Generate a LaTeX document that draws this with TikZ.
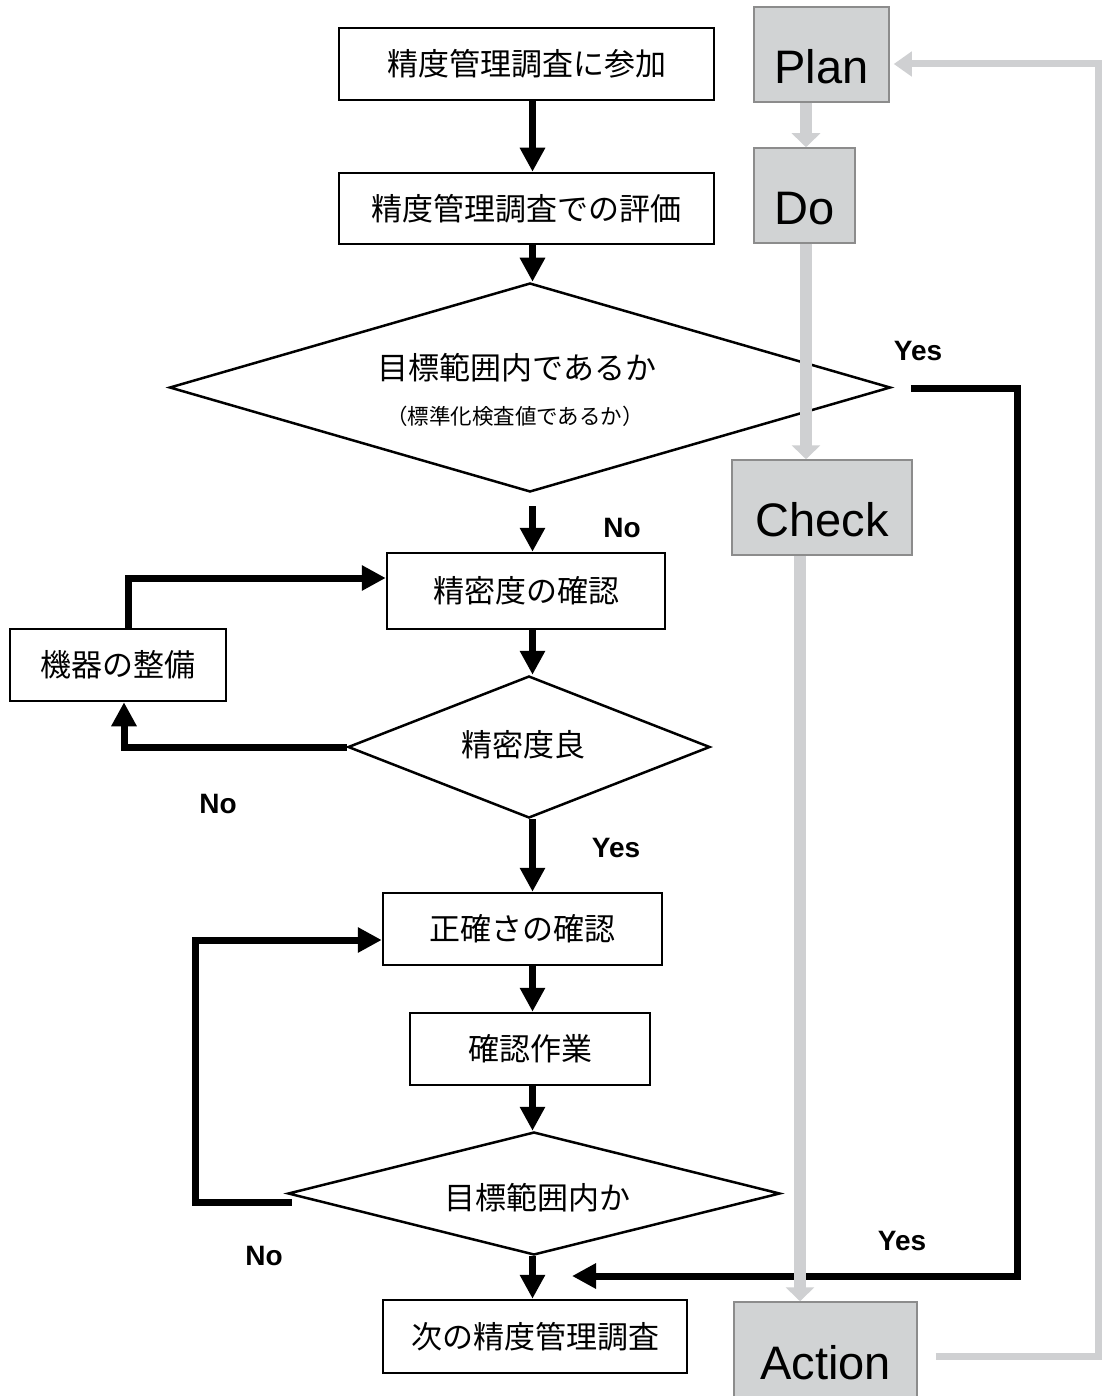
\documentclass[tikz,border=0pt]{standalone}
\usepackage{fontspec}
\setmainfont{Liberation Sans}
\newfontfamily\jp{Noto Sans CJK JP}
\usetikzlibrary{arrows.meta,shapes.geometric,calc}
\definecolor{pdcafill}{HTML}{D1D3D4}
\definecolor{pdcaedge}{HTML}{8C8C8C}
\definecolor{pdcaarrow}{HTML}{CFD0D2}
\begin{document}
\begin{tikzpicture}[x=1pt,y=-1pt,
  jbox/.style={draw=black, line width=2.5pt, fill=white, inner sep=0pt, font=\jp\fontsize{31}{36}\selectfont},
  jtext/.style={inner sep=0pt, font=\jp\fontsize{31}{36}\selectfont},
  jsmall/.style={inner sep=0pt, font=\jp\fontsize{21.5}{24}\selectfont},
  pbox/.style={draw=pdcaedge, line width=1.5pt, fill=pdcafill, inner sep=0pt, text height=58pt, text depth=0pt, font=\fontsize{47}{50}\selectfont},
  dia/.style={diamond, draw=black, line width=2.5pt, inner sep=0pt},
  arr/.style={draw=black, line width=7pt, -{Triangle[width=24pt,length=24pt]}},
  garr/.style={draw=pdcaarrow, line width=12pt, -{Triangle[width=28pt,length=14pt]}},
  garrb/.style={draw=pdcaarrow, line width=7pt, -{Triangle[width=24pt,length=18pt]}},
  yn/.style={inner sep=0pt, font=\bfseries\fontsize{28}{30}\selectfont}
]
\useasboundingbox (0,0) rectangle (1102,1396);
\fill[white] (0,0) rectangle (1102,1396);

% helper columns
\coordinate (cx) at (532.5,0);
\coordinate (lx) at (124,0);
\coordinate (lxb) at (128,0);
\coordinate (nl) at (195,0);
\coordinate (yr) at (1017,0);
\coordinate (gx) at (806,0);
\coordinate (gxb) at (800,0);
\coordinate (grx) at (1098,0);
\coordinate (ye) at (572,1276);

% flowchart boxes
\node[jbox, minimum width=375pt, minimum height=72pt] (b1) at (526.5,64) {精度管理調査に参加};
\node[jbox, minimum width=375pt, minimum height=71pt] (b2) at (526.5,208.5) {精度管理調査での評価};
\node[dia, minimum width=721pt, minimum height=209pt] (d1) at (530,387.5) {};
\node[jtext] (d1a) at (517,368) {目標範囲内であるか};
\node[jsmall] (d1b) at (515,416) {（標準化検査値であるか）};
\node[jbox, minimum width=278pt, minimum height=76pt] (b3) at (526,591) {精密度の確認};
\node[jbox, minimum width=216pt, minimum height=72pt] (m) at (118,665) {機器の整備};
\node[dia, minimum width=362pt, minimum height=142pt] (d2) at (529,747) {};
\node[jtext] (d2a) at (523,745) {精密度良};
\node[jbox, minimum width=279pt, minimum height=72pt] (b4) at (522.5,929) {正確さの確認};
\node[jbox, minimum width=240pt, minimum height=72pt] (b5) at (530,1049) {確認作業};
\node[dia, minimum width=492pt, minimum height=123pt] (d3) at (534,1193.5) {};
\node[jtext] (d3a) at (537,1198) {目標範囲内か};
\node[jbox, minimum width=304pt, minimum height=73pt] (b6) at (535,1336.5) {次の精度管理調査};

% black connectors
\draw[arr] (b1.south -| cx) -- (b2.north -| cx);
\draw[arr] (b2.south -| cx) -- (d1.north -| cx);
\draw[arr] ([yshift=-13pt]d1.south -| cx) -- (b3.north -| cx);
\draw[arr] (b3.south -| cx) -- (d2.north -| cx);
\draw[arr] (d2.west) -| (m.south -| lx);
\draw[arr] (m.north -| lxb) |- ([yshift=13pt]b3.west);
\draw[arr] (d2.south -| cx) -- (b4.north -| cx);
\draw[arr] (b4.south -| cx) -- (b5.north -| cx);
\draw[arr] (b5.south -| cx) -- (d3.north -| cx);
\draw[arr] ([xshift=5pt,yshift=-9pt]d3.west) -| ([yshift=-11pt]b4.west -| nl) -- ([yshift=-11pt]b4.west);
\draw[arr] (d3.south -| cx) -- (b6.north -| cx);
\draw[arr] ([xshift=19pt,yshift=-0.5pt]d1.east) -| (yr |- ye) -- (ye);

% labels
\node[yn] (y1) at (918,351) {Yes};
\node[yn] (n1) at (622,528) {No};
\node[yn] (n2) at (218,804) {No};
\node[yn] (y2) at (616,848) {Yes};
\node[yn] (n3) at (264,1256) {No};
\node[yn] (y3) at (902,1241) {Yes};

% PDCA boxes
\node[pbox, minimum width=135pt, minimum height=95pt] (plan) at (821.5,54.5) {Plan};
\node[pbox, minimum width=101pt, minimum height=95pt] (do) at (804.5,195.5) {Do};
\node[pbox, minimum width=180pt, minimum height=95pt] (check) at (822,507.5) {Check};
\node[pbox, minimum width=183pt, minimum height=96pt] (action) at (825.5,1350) {Action};

% gray connectors
\draw[garr] (plan.south -| gx) -- (do.north -| gx);
\draw[garr] (do.south -| gx) -- (check.north -| gx);
\draw[garr] (check.south -| gxb) -- (action.north -| gxb);
\draw[garrb] ([xshift=18pt,yshift=-6pt]action.east) -| ([yshift=-9.5pt]plan.east -| grx) -- ([xshift=4pt,yshift=-9.5pt]plan.east);
\end{tikzpicture}
\end{document}
